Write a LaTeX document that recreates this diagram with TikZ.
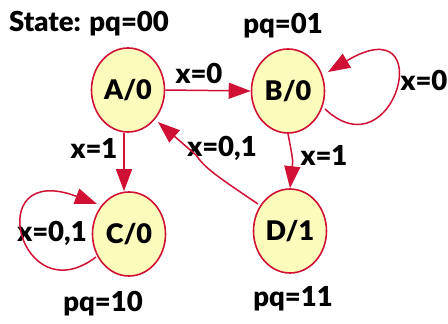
\documentclass[tikz,border=0pt]{standalone}
\usepackage{fontspec}
\setmainfont{Lato}[UprightFont=* Black]
\usetikzlibrary{arrows.meta}
\definecolor{edgered}{RGB}{208,16,52}
\definecolor{statefill}{RGB}{251,251,187}
\tikzset{
  state/.style={ellipse, draw=edgered, line width=1.6pt, fill=statefill, minimum width=73pt, minimum height=84pt, inner sep=0pt, font=\fontsize{27}{30}\selectfont},
  lbl/.style={font=\fontsize{27.5}{30}\selectfont, inner sep=0pt},
  trans/.style={draw=edgered, line width=1.5pt, -{Triangle[length=22pt,width=16pt]}},
}
\usetikzlibrary{shapes.geometric}
\begin{document}
\begin{tikzpicture}[x=1pt,y=-1pt]
\useasboundingbox (0,0) rectangle (448,324);
\node[state] (A) at (128,90) {A/0};
\node[state] (B) at (288,91) {B/0};
\node[state] (C) at (129,234) {C/0};
\node[state] (D) at (290,231) {D/1};
\node[lbl, anchor=west] (st) at (9,24) {State: pq=00};
\node[lbl] (pb) at (283,26) {pq=01};
\node[lbl] (pc) at (103,304) {pq=10};
\node[lbl] (pd) at (293,299) {pq=11};
\node[lbl] (l1) at (199,73) {x=0};
\node[lbl] (l2) at (424,80) {x=0};
\node[lbl] (l3) at (94,148) {x=1};
\node[lbl] (l4) at (222,148) {x=0,1};
\node[lbl] (l5) at (324,155) {x=1};
\node[lbl] (l6) at (52,233) {x=0,1};
\draw[trans] (A.east) -- (B.west);
\draw[trans] (A.south -| 124,0) -- (C.north -| 124,0);
\draw[trans] (B.south) .. controls (293,160) .. (D.north);
\coordinate (d1) at (258,204);
\coordinate (a1) at (158,122);
\draw[trans] (d1) .. controls (215,175) and (205,168) .. (196,155) -- (a1);
\coordinate (b1) at (325,109);
\coordinate (b2) at (328,72);
\draw[trans] (b1) .. controls (395,175) and (440,5) .. (b2);
\coordinate (c1) at (96,257);
\coordinate (c2) at (97,204);
\draw[trans] (c1) .. controls (20,315) and (-20,160) .. (c2);
\end{tikzpicture}
\end{document}
